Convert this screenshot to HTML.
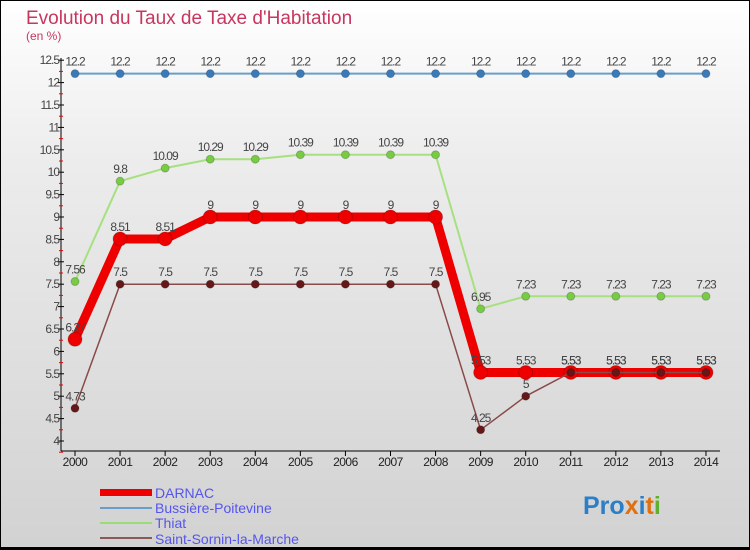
<!DOCTYPE html>
<html><head><meta charset="utf-8"><style>
body{margin:0}
#c{width:750px;height:550px;position:relative;overflow:hidden;box-sizing:border-box;border:1px solid #000;border-bottom:3px solid #000;background:linear-gradient(#fff 0%,#ececec 30%,#d2d2d2 100%);font-family:"Liberation Sans",sans-serif}
</style></head><body>
<div id="c">
<svg id="s" width="750" height="550" style="position:absolute;left:-1px;top:-1px">
<text x="26" y="24" font-size="19" fill="#c8365e">Evolution du Taux de Taxe d'Habitation</text>
<text x="26" y="40" font-size="12" fill="#c8365e">(en %)</text>
<g id="axes"></g><g id="series"></g>
<g>
<rect x="100" y="489" width="52" height="7" fill="#ee0000"/>
<text x="155" y="498" font-size="14" fill="#5555ee">DARNAC</text>
<rect x="100" y="507" width="52" height="2" fill="#6a9ec8"/>
<text x="155" y="513" font-size="14" fill="#5555ee">Bussière-Poitevine</text>
<rect x="100" y="522" width="52" height="2" fill="#99dd77"/>
<text x="155" y="528" font-size="14" fill="#5555ee">Thiat</text>
<rect x="100" y="537" width="52" height="2" fill="#8a5a5a"/>
<text x="155" y="544" font-size="14" fill="#5555ee">Saint-Sornin-la-Marche</text>
</g>
<text x="583" y="514" font-size="25" font-weight="bold"><tspan fill="#2a7fc8">Pro</tspan><tspan fill="#e07010">x</tspan><tspan fill="#2a7fc8">i</tspan><tspan fill="#e07010">t</tspan><tspan fill="#60b030">i</tspan></text>
</svg>
</div>
<script>
const years=[2000,2001,2002,2003,2004,2005,2006,2007,2008,2009,2010,2011,2012,2013,2014];
const darnac=[6.27,8.51,8.51,9,9,9,9,9,9,5.53,5.53,5.53,5.53,5.53,5.53];
const bussiere=[12.2,12.2,12.2,12.2,12.2,12.2,12.2,12.2,12.2,12.2,12.2,12.2,12.2,12.2,12.2];
const thiat=[7.56,9.8,10.09,10.29,10.29,10.39,10.39,10.39,10.39,6.95,7.23,7.23,7.23,7.23,7.23];
const sornin=[4.73,7.5,7.5,7.5,7.5,7.5,7.5,7.5,7.5,4.25,5,5.53,5.53,5.53,5.53];
const yTicks=[4,4.5,5,5.5,6,6.5,7,7.5,8,8.5,9,9.5,10,10.5,11,11.5,12,12.5];
const NS="http://www.w3.org/2000/svg";
const X=i=>75+i*45.07, Y=v=>441-(v-4)*44.8;
function mk(t,a,p){const e=document.createElementNS(NS,t);for(const k in a)e.setAttribute(k,a[k]);p.appendChild(e);return e;}
const ax=document.getElementById('axes'), sg=document.getElementById('series');
let l=mk('line',{x1:61,y1:58,x2:61,y2:451,stroke:'#000'},ax);


l=mk('line',{x1:61,y1:451,x2:720,y2:451,stroke:'#000'},ax);


yTicks.forEach(v=>{
 const y=Y(v);
 mk('line',{x1:58,y1:y,x2:64,y2:y,stroke:'#000'},ax);
 mk('line',{x1:59,y1:y+11.2,x2:63,y2:y+11.2,stroke:'#e00'},ax);
 const t=mk('text',{x:59,y:y+4,'font-size':12,fill:'#444','text-anchor':'end','letter-spacing':'-1'},ax);
 t.textContent=String(v);
 
 
});
years.forEach((yr,i)=>{
 mk('line',{x1:X(i),y1:451,x2:X(i),y2:456,stroke:'#000'},ax);
 const t=mk('text',{x:X(i),y:466,'font-size':12,fill:'#222','text-anchor':'middle','letter-spacing':'-0.5'},ax);
 t.textContent=yr;
 
 
});
function series(vals,color,w,r,name,lblColor){
 const g=mk('g',{},sg);
 
 
 const p=mk('polyline',{points:vals.map((v,i)=>X(i)+','+Y(v)).join(' '),fill:'none',stroke:color,'stroke-width':w,'stroke-linejoin':'round'},g);
 
 
 vals.forEach((v,i)=>{
  const c=mk('circle',{cx:X(i),cy:Y(v),r:r,fill:lblColor.dot,stroke:'#00000033'},g);
  
  
  const t=mk('text',{x:X(i),y:Y(v)-8,'font-size':12,fill:'#444','text-anchor':'middle','letter-spacing':'-1'},g);
  t.textContent=String(v).replace('.','.');
  
  
 });
}
series(bussiere,'#6a9ec8',2,4,'bussiere',{dot:'#3a7ab8'});
series(thiat,'#a6e080',2,4,'thiat',{dot:'#77cc44'});
series(darnac,'#ee0000',9,7,'darnac',{dot:'#ee0000'});
series(sornin,'#8a4a4a',1.5,4,'saint-sornin',{dot:'#661818'});
</script>
</body></html>
